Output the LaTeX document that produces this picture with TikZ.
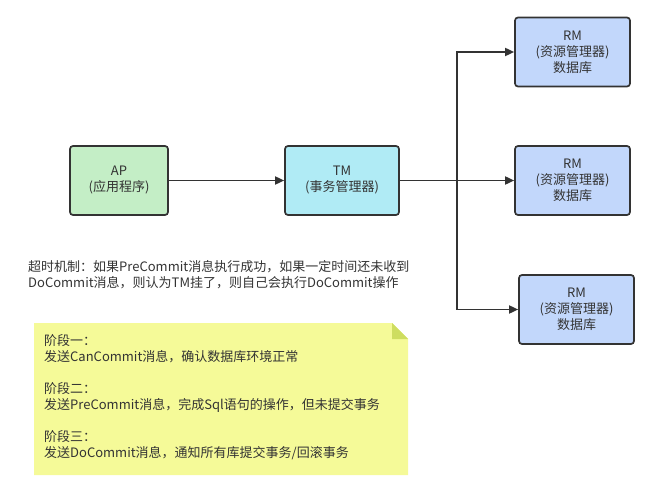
\documentclass[tikz,border=0pt]{standalone}
\usepackage{fontspec}
\setmainfont{Noto Sans CJK SC}
\usetikzlibrary{arrows.meta}
\definecolor{edge}{HTML}{333333}
\definecolor{txt}{HTML}{333333}
\definecolor{apfill}{HTML}{C4EEC6}
\definecolor{tmfill}{HTML}{B0EBF5}
\definecolor{rmfill}{HTML}{C2D7FB}
\definecolor{notefill}{HTML}{F5FA98}
\definecolor{notefold}{HTML}{CEDD60}
\begin{document}
\begin{tikzpicture}[x=1pt,y=-1pt,
  box/.style={draw=edge,line width=1.7pt,rounded corners=3pt,minimum width=#1,minimum height=69pt,
    align=center,font=\fontsize{13}{16}\selectfont,text=txt,inner sep=0pt},
  conn/.style={draw=edge,line width=1.7pt,-{Triangle[length=9pt,width=8pt]}},
  plain/.style={font=\fontsize{13}{16}\selectfont,text=txt,align=left,inner sep=0pt}]
\useasboundingbox (0,0) rectangle (658,497);
\node[box=98pt,fill=apfill] (ap) at (119,180.5) {AP\\(应用程序)};
\node[box=114pt,fill=tmfill] (tm) at (342,180.5) {TM\\(事务管理器)};
\node[box=115pt,fill=rmfill] (rm1) at (572.5,52) {RM\\(资源管理器)\\数据库};
\node[box=115pt,fill=rmfill] (rm2) at (572.5,180.5) {RM\\(资源管理器)\\数据库};
\node[box=115pt,fill=rmfill] (rm3) at (576.5,309.5) {RM\\(资源管理器)\\数据库};
\coordinate (br) at (457,180.5);
\draw[conn] (ap) -- (tm);
\draw[conn] (tm) -- (rm2);
\draw[conn] (br) |- (rm1);
\draw[conn] (br) |- (rm3);
\node[plain,anchor=north west] (timeout) at (28,260) {超时机制：如果PreCommit消息执行成功，如果一定时间还未收到\\DoCommit消息，则认为TM挂了，则自己会执行DoCommit操作};
\fill[notefill] (34,323) -- (392,323) -- (408,339) -- (408,475) -- (34,475) -- cycle;
\fill[notefold] (392,323) -- (408,339) -- (392,339) -- cycle;
\node[plain,anchor=north west] (note) at (44,334) {阶段一：\\发送CanCommit消息，确认数据库环境正常\\[16pt]阶段二：\\发送PreCommit消息，完成Sql语句的操作，但未提交事务\\[16pt]阶段三：\\发送DoCommit消息，通知所有库提交事务/回滚事务};
\end{tikzpicture}
\end{document}
